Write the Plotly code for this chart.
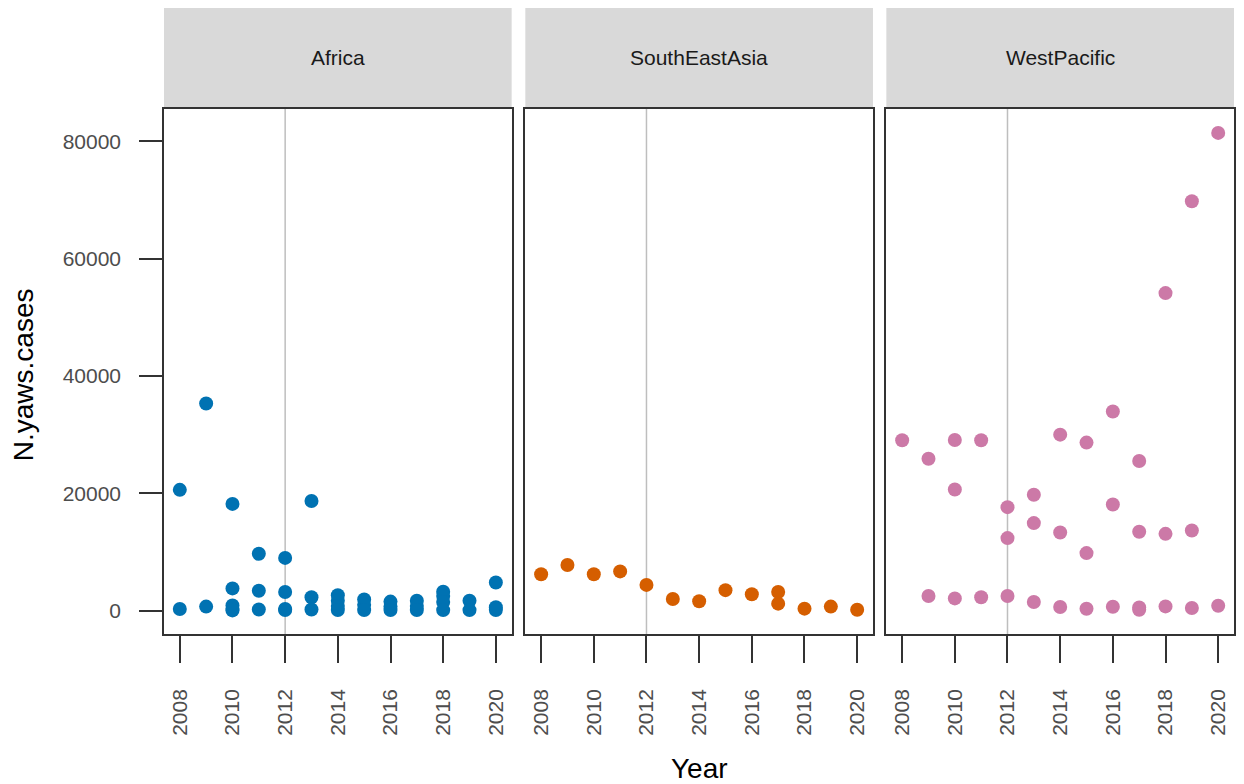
import plotly.graph_objects as go

regions = ["Africa", "SouthEastAsia", "WestPacific"]
colors = ["#0072B2", "#D55E00", "#CC79A7"]

africa_years = [2008, 2008, 2009, 2009,
                2010, 2010, 2010, 2010, 2010,
                2011, 2011, 2011,
                2012, 2012, 2012, 2012,
                2013, 2013, 2013,
                2014, 2014, 2014, 2014,
                2015, 2015, 2015,
                2016, 2016, 2016,
                2017, 2017, 2017,
                2018, 2018, 2018, 2018,
                2019, 2019,
                2020, 2020, 2020]
africa_cases = [20600, 300, 35300, 700,
                18200, 3800, 900, 300, 50,
                9700, 3400, 200,
                9000, 3200, 300, 100,
                18700, 2300, 200,
                2650, 1700, 800, 100,
                1900, 1000, 100,
                1550, 700, 100,
                1700, 800, 100,
                3250, 2500, 1500, 100,
                1700, 100,
                4800, 600, 100]

sea_years = [2008, 2009, 2010, 2011, 2012, 2013, 2014, 2015, 2016, 2017, 2017, 2018, 2019, 2020]
sea_cases = [6200, 7800, 6200, 6700, 4400, 2000, 1600, 3500, 2800, 3200, 1200, 350, 700, 170]

wp_years = [2008,
            2009, 2009,
            2010, 2010, 2010,
            2011, 2011,
            2012, 2012, 2012,
            2013, 2013, 2013,
            2014, 2014, 2014,
            2015, 2015, 2015,
            2016, 2016, 2016,
            2017, 2017, 2017, 2017,
            2018, 2018, 2018,
            2019, 2019, 2019,
            2020, 2020]
wp_cases = [29050,
            25900, 2500,
            29100, 20650, 2100,
            29050, 2300,
            17650, 12370, 2500,
            19750, 14930, 1480,
            30000, 13330, 630,
            28650, 9820, 340,
            33940, 18100, 680,
            25500, 13450, 550, 150,
            54130, 13100, 730,
            69790, 13670, 450,
            81430, 850]

x_ticks = [2008, 2010, 2012, 2014, 2016, 2018, 2020]
y_ticks = [0, 20000, 40000, 60000, 80000]
ref_year = 2012

series = [(africa_years, africa_cases), (sea_years, sea_cases), (wp_years, wp_cases)]

# page has an 8px body margin; figure coordinates = page coordinates - 8
OFF = 8
W, H = 1236, 776
ml, mr, mt, mb = 156, 8, 101, 150
pw = W - ml - mr
ph = H - mt - mb
panels_px = [(164.3 - OFF, 512.3 - OFF), (526.0 - OFF, 874.3 - OFF), (887.7 - OFF, 1236.0 - OFF)]
domains = [((a - ml) / pw, (b - ml) / pw) for a, b in panels_px]
domains[0] = (0.0, domains[0][1])
domains[2] = (domains[2][0], 1.0)

font_fam = "Liberation Sans, Arial, Helvetica, sans-serif"
bottom_px = H - mb  # figure px of panel bottom


def py(page_y):
    return (bottom_px - (page_y - OFF)) / ph


def px(page_x):
    return ((page_x - OFF) - ml) / pw


fig = go.Figure()
for i, (yrs, vals) in enumerate(series):
    xa = "x" if i == 0 else f"x{i+1}"
    ya = "y" if i == 0 else f"y{i+1}"
    fig.add_trace(go.Scatter(
        x=yrs, y=vals, mode="markers", xaxis=xa, yaxis=ya,
        marker=dict(color=colors[i], size=14, line=dict(width=0)),
        showlegend=False, name=regions[i]))

layout = dict(
    width=W, height=H,
    margin=dict(l=ml, r=mr, t=mt, b=mb, pad=0),
    paper_bgcolor="white", plot_bgcolor="white",
    font=dict(family=font_fam, size=21, color="#4D4D4D"),
    showlegend=False,
)
shapes = []
annotations = []
for i in range(3):
    xkey = "xaxis" if i == 0 else f"xaxis{i+1}"
    ykey = "yaxis" if i == 0 else f"yaxis{i+1}"
    layout[xkey] = dict(
        domain=list(domains[i]), range=[2007.4, 2020.6],
        tickvals=x_ticks, ticktext=[str(t) for t in x_ticks],
        tickangle=-90, ticks="outside", ticklen=27, tickwidth=1.5, tickcolor="#333333",
        ticklabelstandoff=18,
        showgrid=False, zeroline=False,
        showline=True, mirror=True, linecolor="#333333", linewidth=1.5,
        tickfont=dict(size=21, color="#4D4D4D"),
        anchor="y" if i == 0 else f"y{i+1}",
    )
    ydict = dict(
        domain=[0, 1], range=[-3970, 85500],
        showgrid=False, zeroline=False,
        showline=True, mirror=True, linecolor="#333333", linewidth=1.5,
        anchor="x" if i == 0 else f"x{i+1}",
    )
    if i == 0:
        ydict.update(tickvals=y_ticks, ticktext=[str(t) for t in y_ticks],
                     ticks="outside", ticklen=23, tickwidth=1.5, tickcolor="#333333",
                     ticklabelstandoff=14, tickfont=dict(size=21, color="#4D4D4D"))
    else:
        ydict.update(matches="y", showticklabels=False, ticks="")
    layout[ykey] = ydict

    xr = "x" if i == 0 else f"x{i+1}"
    yr = "y" if i == 0 else f"y{i+1}"
    shapes.append(dict(type="line", xref=xr, yref=f"{yr} domain",
                       x0=ref_year, x1=ref_year, y0=0, y1=1,
                       line=dict(color="#BEBEBE", width=1.5), layer="below"))
    shapes.append(dict(type="rect", xref="paper", yref="paper",
                       x0=domains[i][0], x1=domains[i][1],
                       y0=1.0, y1=py(5),
                       fillcolor="#D9D9D9", line=dict(width=0), layer="below"))
    annotations.append(dict(text=regions[i], xref="paper", yref="paper",
                            x=(domains[i][0] + domains[i][1]) / 2,
                            y=py(57), xanchor="center", yanchor="middle",
                            showarrow=False,
                            font=dict(size=21, color="#1A1A1A", family=font_fam)))

annotations.append(dict(text="Year", xref="paper", yref="paper",
                        x=px(700), y=py(768),
                        xanchor="center", yanchor="middle", showarrow=False,
                        font=dict(size=28, color="black", family=font_fam)))
annotations.append(dict(text="N.yaws.cases", xref="paper", yref="paper",
                        x=px(24), y=py(375), textangle=-90,
                        xanchor="center", yanchor="middle", showarrow=False,
                        font=dict(size=28, color="black", family=font_fam)))

layout["shapes"] = shapes
layout["annotations"] = annotations
fig.update_layout(**layout)
fig.write_html("out.html")
